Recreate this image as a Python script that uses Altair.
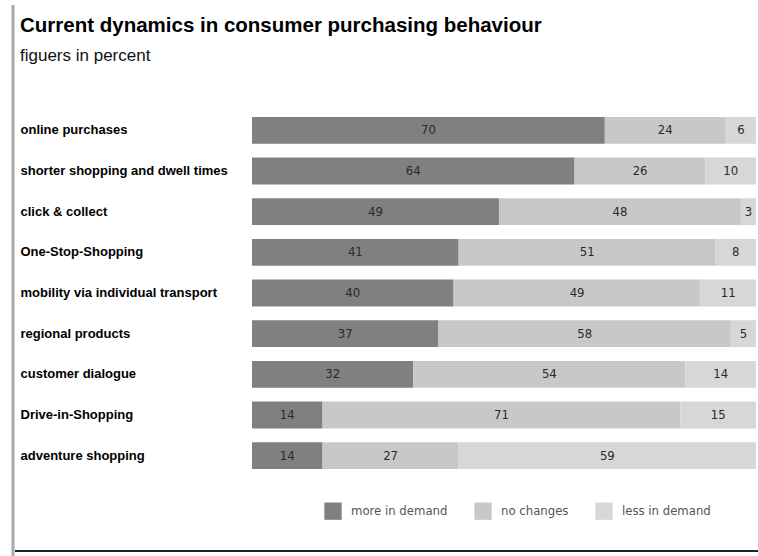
import altair as alt
import pandas as pd

categories = [
    "online purchases",
    "shorter shopping and dwell times",
    "click & collect",
    "One-Stop-Shopping",
    "mobility via individual transport",
    "regional products",
    "customer dialogue",
    "Drive-in-Shopping",
    "adventure shopping",
]
more_in_demand = [70, 64, 49, 41, 40, 37, 32, 14, 14]
no_changes = [24, 26, 48, 51, 49, 58, 54, 71, 27]
less_in_demand = [6, 10, 3, 8, 11, 5, 14, 15, 59]
series = ["more in demand", "no changes", "less in demand"]
colors = ["#808080", "#c8c8c8", "#d7d7d7"]

rows = []
for i, c in enumerate(categories):
    for k, (s, vals) in enumerate(zip(series, [more_in_demand, no_changes, less_in_demand])):
        rows.append({"category": c, "series": s, "order": k, "value": vals[i]})
df = pd.DataFrame(rows)

LABEL_FONT = "Liberation Sans"

base = alt.Chart(df).transform_stack(
    stack="value", groupby=["category"], as_=["start", "end"],
    sort=[alt.SortField("order", order="ascending")],
).transform_calculate(mid="(datum.start + datum.end) / 2")

yenc = alt.Y(
    "category:N", sort=categories, title=None,
    scale=alt.Scale(paddingInner=0.34, paddingOuter=0.17),
    axis=alt.Axis(
        domain=False, ticks=False, labelAlign="left", labelPadding=232,
        labelFont=LABEL_FONT, labelFontWeight="bold", labelFontSize=13,
        labelColor="#000000", labelLimit=260,
    ),
)
xscale = alt.Scale(domain=[0, 100], nice=False)

bars = base.mark_bar().encode(
    x=alt.X("start:Q", scale=xscale, axis=None),
    x2="end:Q",
    y=yenc,
    color=alt.Color(
        "series:N", sort=series,
        scale=alt.Scale(domain=series, range=colors),
        legend=alt.Legend(
            title=None, orient="none", legendX=72, legendY=392,
            direction="horizontal", symbolType="square", symbolSize=300,
            symbolStrokeWidth=0, labelFont="DejaVu Sans Condensed", labelFontSize=13,
            labelColor="#555555", columnPadding=26, labelOffset=9,
        ),
    ),
    order=alt.Order("order:Q"),
)

text = base.mark_text(font="DejaVu Sans Condensed", fontSize=13, color="#2a2a2a").encode(
    x=alt.X("mid:Q", scale=xscale),
    y=alt.Y("category:N", sort=categories),
    text="value:Q",
)

left_line = alt.Chart(alt.Data(values=[{"a": 1}])).mark_rule(color="#a8a8a8", strokeWidth=3).encode(
    x=alt.value(-239), y=alt.value(-105), y2=alt.value(446)
)
bottom_line = alt.Chart(alt.Data(values=[{"a": 1}])).mark_rule(color="#222222", strokeWidth=2).encode(
    x=alt.value(-237), x2=alt.value(506), y=alt.value(441)
)

chart = alt.layer(bars, text, left_line, bottom_line).properties(
    width=504, height=366,
    padding={"left": 252, "top": 110, "right": 2, "bottom": 80},
    autosize=alt.AutoSizeParams(type="none"),
    title=alt.TitleParams(
        text="Current dynamics in consumer purchasing behaviour",
        subtitle="figuers in percent",
        anchor="start", frame="group", dx=-232, dy=60, offset=0,
        font=LABEL_FONT, fontSize=20.5, fontWeight="bold", color="#000000",
        subtitleFont="Liberation Sans", subtitleFontSize=17, subtitleColor="#111111",
        subtitlePadding=11,
    ),
).configure_view(stroke=None)

chart.save("out.html", embed_options={"renderer": "svg", "actions": False})
